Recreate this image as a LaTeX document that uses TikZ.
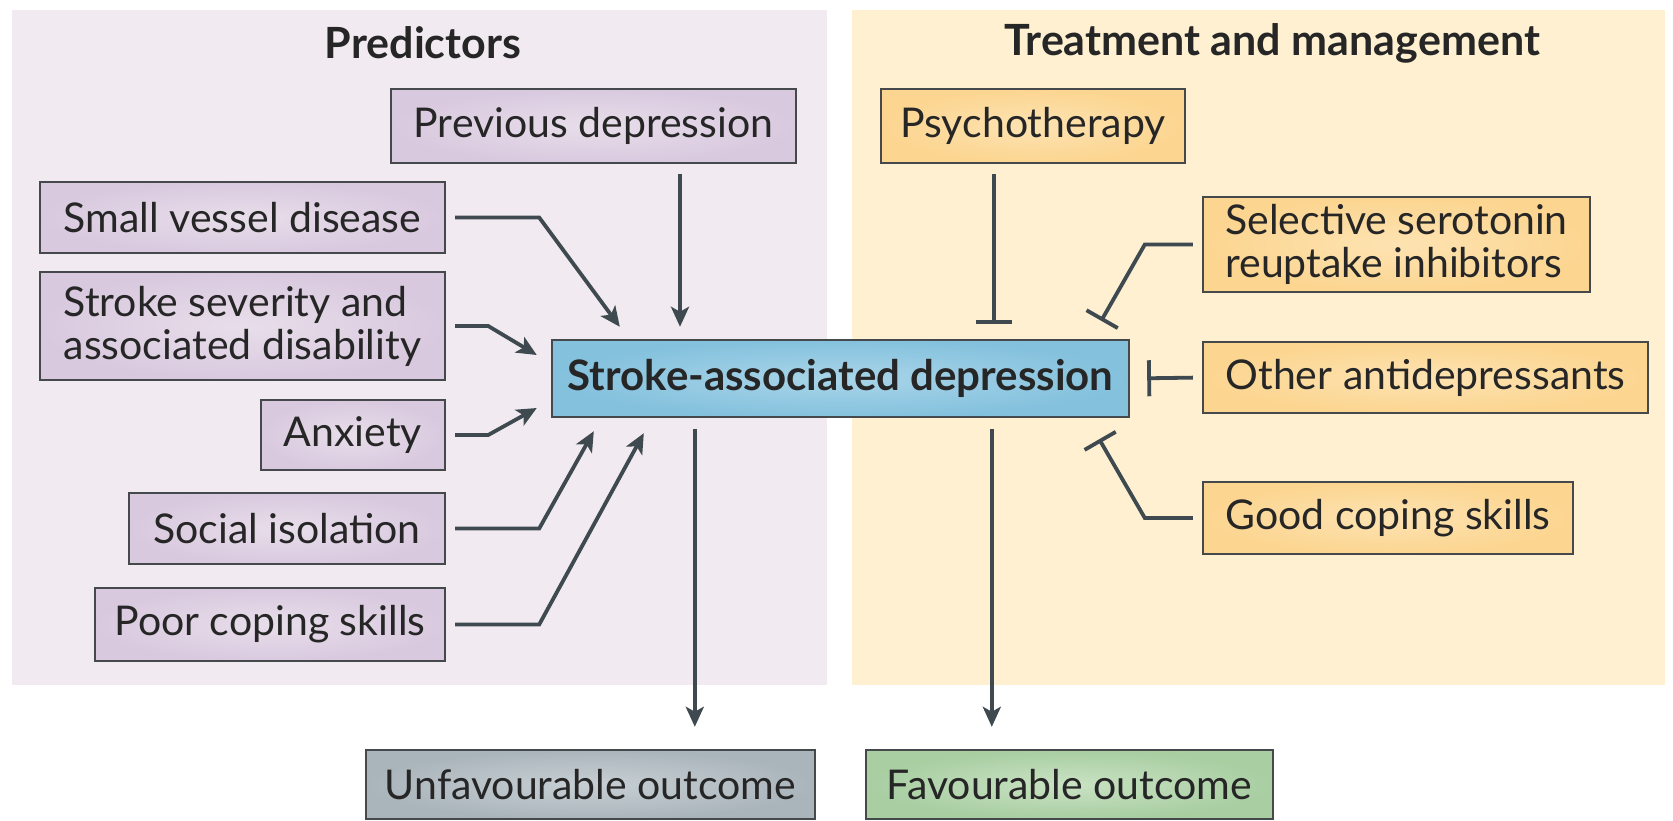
\documentclass[tikz,border=0pt]{standalone}
\usepackage{fontspec}
\setmainfont{Lato}
\usetikzlibrary{arrows.meta}
\definecolor{lpanel}{HTML}{F2EAF1}
\definecolor{rpanel}{HTML}{FEF0D0}
\definecolor{predO}{HTML}{D9C9DF}
\definecolor{predI}{HTML}{E8DEEA}
\definecolor{treatO}{HTML}{FCD590}
\definecolor{treatI}{HTML}{FDE3B2}
\definecolor{ctrO}{HTML}{84C1DD}
\definecolor{ctrI}{HTML}{A9D5E9}
\definecolor{unfO}{HTML}{AAB5BB}
\definecolor{unfI}{HTML}{C7CFD3}
\definecolor{favO}{HTML}{A8CEA2}
\definecolor{favI}{HTML}{C9E2C3}
\definecolor{edge}{HTML}{45494B}
\definecolor{wire}{HTML}{3E4A4F}
\definecolor{ink}{HTML}{262626}
\begin{document}
\begin{tikzpicture}[x=0.5pt,y=-0.5pt,
  box/.style={draw=edge, line width=1.2pt, inner sep=0pt, text=ink,
    font=\fontsize{20.5}{21.5}\selectfont},
  pred/.style={box, inner color=predI, outer color=predO},
  treat/.style={box, inner color=treatI, outer color=treatO},
  title/.style={font=\fontsize{21.5}{24}\selectfont\bfseries, text=ink},
  arr/.style={draw=wire, line width=1.9pt, -{Stealth[length=10pt,width=9pt,inset=2.5pt]}},
  inh/.style={draw=wire, line width=1.9pt, -{Bar[width=18pt,line width=1.9pt]}},
]
\useasboundingbox (0,0) rectangle (1673,820);
\fill[white] (0,0) rectangle (1673,820);
\fill[lpanel] (12,10) rectangle (827,685);
\fill[rpanel] (852,10) rectangle (1665,685);

\node[title] (tpred) at (423,43) {Predictors};
\node[title] (ttreat) at (1272,43) {Treatment and management};

\node[pred, minimum width=202.5pt, minimum height=37pt] (prev) at (593.5,126) {Previous depression};
\node[pred, minimum width=202.5pt, minimum height=35.5pt] (svd) at (242.5,217.5) {Small vessel disease};
\node[pred, minimum width=202.5pt, minimum height=54pt, align=left] (sev) at (242.5,326) {Stroke severity and\\associated disability};
\node[pred, minimum width=92pt, minimum height=35pt] (anx) at (353,435) {Anxiety};
\node[pred, minimum width=158pt, minimum height=35.5pt] (soc) at (287,528.5) {Social isolation};
\node[pred, minimum width=175pt, minimum height=36.5pt] (poor) at (270,624.5) {Poor coping skills};

\node[box, inner color=ctrI, outer color=ctrO, minimum width=288.5pt, minimum height=38.5pt,
  font=\fontsize{21}{24}\selectfont\bfseries] (ctr) at (840.5,378.5) {Stroke-associated depression};

\node[box, inner color=unfI, outer color=unfO, minimum width=224.5pt, minimum height=34.5pt] (unf) at (590.5,784.5) {Unfavourable outcome};
\node[box, inner color=favI, outer color=favO, minimum width=203.5pt, minimum height=34.5pt] (fav) at (1069.5,784.5) {Favourable outcome};

\node[treat, minimum width=152pt, minimum height=37pt] (psy) at (1033,126) {Psychotherapy};
\node[treat, minimum width=193.5pt, minimum height=47.5pt, align=left] (ssri) at (1396.5,244.5) {Selective serotonin\\reuptake inhibitors};
\node[treat, minimum width=222.5pt, minimum height=35.5pt] (other) at (1425.5,377.5) {Other antidepressants};
\node[treat, minimum width=185pt, minimum height=36pt] (good) at (1388,518) {Good coping skills};

% predictors -> depression
\draw[arr, shorten >=6pt] ([xshift=43.25pt,yshift=-5pt]prev.south) -- ([xshift=43.25pt]prev.south |- ctr.north);
\draw[arr, shorten <=4.5pt] (svd.east) -- ++(93,0) -- ([xshift=34.5pt,yshift=6pt]ctr.north west);
\draw[arr, shorten <=4.5pt] (sev.east) -- ++(42,0) -- ([xshift=-7pt,yshift=11.75pt]ctr.west);
\draw[arr, shorten <=4.5pt] (anx.east) -- ++(42,0) -- ([xshift=-7pt,yshift=-14.75pt]ctr.west);
\draw[arr, shorten <=4.5pt] (soc.east) -- ++(93,0) -- ([xshift=21.5pt,yshift=-6.5pt]ctr.south west);
\draw[arr, shorten <=4.5pt] (poor.east) -- ++(93,0) -- ([xshift=46.5pt,yshift=-7.5pt]ctr.south west);

% outcomes
\draw[arr, shorten >=11pt] ([xshift=72pt,yshift=-5.5pt]ctr.south west) -- ([xshift=72pt]ctr.south west |- unf.north);
\draw[arr, shorten >=11pt] ([xshift=220.5pt,yshift=-5.5pt]ctr.south west) -- ([xshift=220.5pt]ctr.south west |- fav.north);

% treatments -| depression
\draw[inh, shorten >=7.5pt] ([xshift=-19.5pt,yshift=-5pt]psy.south) -- ([xshift=-19.5pt]psy.south |- ctr.north);
\draw[inh, shorten <=4.5pt] (ssri.west) -- ++(-57,0) -- ([xshift=-14.5pt,yshift=9pt]ctr.north east);
\draw[inh, shorten <=4.5pt, shorten >=8.5pt] (other.west) -- (ctr.east);
\draw[inh, shorten <=4.5pt] (good.west) -- ++(-57,0) -- ([xshift=-15.5pt,yshift=-10.5pt]ctr.south east);
\end{tikzpicture}
\end{document}
